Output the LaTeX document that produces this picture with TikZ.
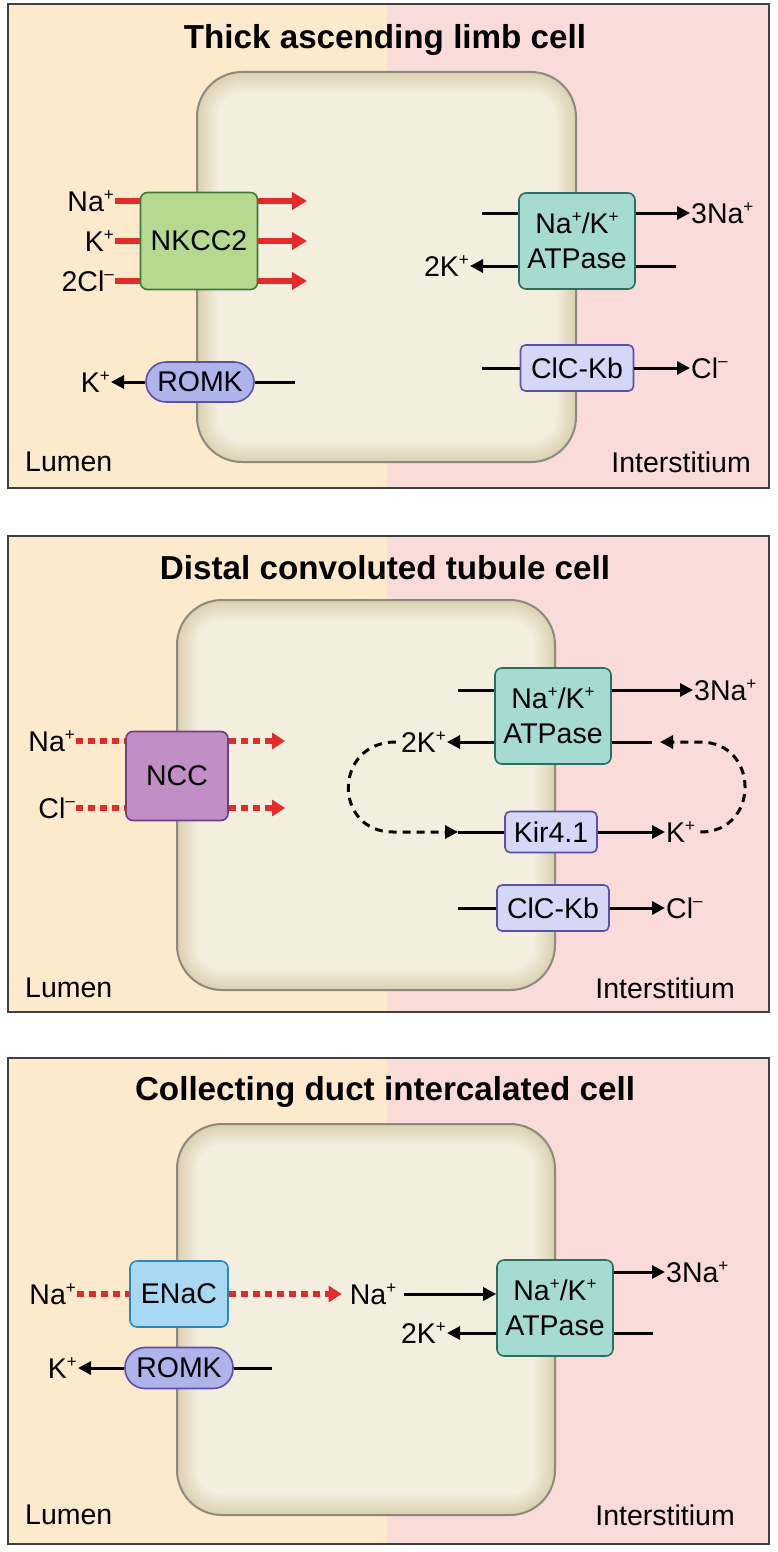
\documentclass[tikz,border=0pt]{standalone}
\usepackage{fontspec}
\setmainfont{Liberation Sans}
\usetikzlibrary{arrows.meta}

\definecolor{lumen}{HTML}{FDE9CC}
\definecolor{inter}{HTML}{F9DCDA}
\definecolor{cellmid}{HTML}{F4EEDF}
\definecolor{celledge}{HTML}{DCD1B2}
\definecolor{cellrim}{HTML}{8A8A80}
\definecolor{nkccfill}{HTML}{B6D98F}
\definecolor{nkccline}{HTML}{3E7A3A}
\definecolor{pumpfill}{HTML}{A5DBD2}
\definecolor{pumpline}{HTML}{2B6E5E}
\definecolor{clcfill}{HTML}{D5D7F6}
\definecolor{clcline}{HTML}{5C4FA6}
\definecolor{romkfill}{HTML}{AEB3EC}
\definecolor{nccfill}{HTML}{C18FC6}
\definecolor{nccline}{HTML}{6D3F80}
\definecolor{enacfill}{HTML}{A8D8F2}
\definecolor{enacline}{HTML}{2A86BE}
\definecolor{tred}{HTML}{E52A2A}

\newcommand{\lbl}{\fontsize{28.5}{35}\selectfont}
\newcommand{\ttl}{\fontsize{33.2}{38}\selectfont\bfseries}
\newcommand{\chg}[1]{\raisebox{.75ex}{\fontsize{17}{17}\selectfont #1}}
\newcommand{\cellbody}[4]{%
  \foreach \i [evaluate=\i as \p using 12.5*\i, evaluate=\i as \d using 2.5*\i,
               evaluate=\i as \r using 45-2.5*\i] in {0,...,8}
    \fill[cellmid!\p!celledge, rounded corners=\r pt] (#1+\d,#2+\d) rectangle (#3-\d,#4-\d);
  \draw[cellline] (#1,#2) rectangle (#3,#4);}

\tikzset{
  panel/.style={draw=black!75, line width=1.2pt},
  cellline/.style={draw=cellrim, line width=2pt, rounded corners=45pt},
  ttlnode/.style={inner sep=0pt, font=\ttl},
  side/.style={inner sep=0pt, font=\lbl},
  ion/.style={inner sep=1pt, font=\lbl},
  box/.style={draw, line width=1.6pt, rounded corners=7pt, inner sep=0pt, align=center, font=\lbl},
  pill/.style={draw=clcline, fill=romkfill, line width=1.6pt, rounded corners=20pt, inner sep=0pt,
    minimum width=108pt, minimum height=40pt, font=\lbl},
  pump/.style={box, fill=pumpfill, draw=pumpline, minimum width=116pt, minimum height=96pt},
  chan/.style={box, fill=clcfill, draw=clcline, rounded corners=5pt},
  bare/.style={line width=3pt},
  flow/.style={line width=3pt, -{Triangle[length=13pt,width=13pt]}},
  redbare/.style={draw=tred, line width=5.5pt},
  redflow/.style={draw=tred, line width=5.5pt, -{Triangle[length=15pt,width=17pt]}},
  reddots/.style={draw=tred, line width=5.5pt, dash pattern=on 7pt off 5pt},
  reddotflow/.style={reddots, -{Triangle[length=13pt,width=16pt]}},
  kloop/.style={line width=3pt, dash pattern=on 8pt off 6pt, -{Triangle[length=13pt,width=13pt]}}
}

\begin{document}
\begin{tikzpicture}[x=1pt, y=-1pt]
  \useasboundingbox (0,0) rectangle (777,1552);

  % thick ascending limb
  \fill[lumen] (8,4) rectangle (387,488);
  \fill[inter] (387,4) rectangle (769,488);
  \cellbody{197}{72}{576}{462}
  \draw[panel] (8,4) rectangle (769,488);
  \node[ttlnode] (t1) at (385,40) {Thick ascending limb cell};
  \node[side, anchor=west] (lum1) at (25,462) {Lumen};
  \node[side, anchor=east] (int1) at (751,462) {Interstitium};

  \node[box, fill=nkccfill, draw=nkccline, minimum width=117pt, minimum height=97pt] (nkcc) at (199,241) {NKCC2};
  \node[ion, anchor=east] (na1) at (115,201) {Na\chg{+}};
  \node[ion, anchor=east] (k1) at (115,241) {K\chg{+}};
  \node[ion, anchor=east] (cl1) at (115,281) {2Cl\chg{–}};
  \draw[redbare] (na1) -- (na1 -| nkcc.west);
  \draw[redbare] (k1) -- (k1 -| nkcc.west);
  \draw[redbare] (cl1) -- (cl1 -| nkcc.west);
  \coordinate (na1r) at (307,201);
  \coordinate (k1r) at (307,241);
  \coordinate (cl1r) at (307,281);
  \draw[redflow] (na1r -| nkcc.east) -- (na1r);
  \draw[redflow] (k1r -| nkcc.east) -- (k1r);
  \draw[redflow] (cl1r -| nkcc.east) -- (cl1r);

  \node[pill] (romk1) at (200,382) {ROMK};
  \node[ion, anchor=east] (k1b) at (111,382) {K\chg{+}};
  \coordinate (romk1a) at (295,382);
  \draw[flow] (romk1) -- (k1b);
  \draw[bare] (romk1) -- (romk1a);

  \node[pump] (nak1) at (577,241) {Na\chg{+}/K\chg{+}\\ATPase};
  \node[ion, anchor=west] (na3a) at (690,213) {3Na\chg{+}};
  \node[ion, anchor=east] (k2a) at (470,266) {2K\chg{+}};
  \coordinate (nak1a) at (482,213);
  \coordinate (nak1b) at (676,266);
  \draw[bare] (nak1a) -- (nak1a -| nak1.west);
  \draw[flow] (nak1.east |- na3a) -- (na3a);
  \draw[flow] (nak1.west |- k2a) -- (k2a);
  \draw[bare] (nak1.east |- nak1b) -- (nak1b);

  \node[chan, minimum width=113pt, minimum height=46pt] (clc1) at (577,368) {ClC-Kb};
  \node[ion, anchor=west] (cl1b) at (690,368) {Cl\chg{–}};
  \coordinate (clc1a) at (482,368);
  \draw[bare] (clc1a) -- (clc1);
  \draw[flow] (clc1) -- (cl1b);

  % distal convoluted tubule
  \fill[lumen] (8,536) rectangle (387,1012);
  \fill[inter] (387,536) rectangle (769,1012);
  \cellbody{177}{600}{555}{990}
  \draw[panel] (8,536) rectangle (769,1012);
  \node[ttlnode] (t2) at (385,568) {Distal convoluted tubule cell};
  \node[side, anchor=west] (lum2) at (25,988) {Lumen};
  \node[side, anchor=east] (int2) at (735,988) {Interstitium};

  \node[box, fill=nccfill, draw=nccline, minimum width=102pt, minimum height=89pt] (ncc) at (177,776) {NCC};
  \node[ion, anchor=east] (na2) at (76,741) {Na\chg{+}};
  \node[ion, anchor=east] (cl2) at (76,808) {Cl\chg{–}};
  \draw[reddots] (na2) -- (na2 -| ncc.west);
  \draw[reddots] (cl2) -- (cl2 -| ncc.west);
  \coordinate (na2r) at (285,741);
  \coordinate (cl2r) at (285,808);
  \draw[reddotflow] (na2r -| ncc.east) -- (na2r);
  \draw[reddotflow] (cl2r -| ncc.east) -- (cl2r);

  \node[pump] (nak2) at (553,716) {Na\chg{+}/K\chg{+}\\ATPase};
  \node[ion, anchor=west] (na3b) at (693,690) {3Na\chg{+}};
  \node[ion, anchor=east] (k2b) at (447,742) {2K\chg{+}};
  \coordinate (nak2a) at (458,690);
  \coordinate (nak2b) at (652,742);
  \coordinate (nak2c) at (660,742);
  \draw[bare] (nak2a) -- (nak2a -| nak2.west);
  \draw[flow] (nak2.east |- na3b) -- (na3b);
  \draw[flow] (nak2.west |- k2b) -- (k2b);
  \draw[bare] (nak2.east |- nak2b) -- (nak2b);

  \node[chan, minimum width=92pt, minimum height=41pt] (kir) at (551,832) {Kir4.1};
  \node[ion, anchor=west] (kb) at (665,832) {K\chg{+}};
  \coordinate (kirL) at (458,832);
  \draw[bare] (kirL) -- (kir);
  \draw[flow] (kir) -- (kb);
  \draw[kloop, shorten <=4pt] (k2b.west) .. controls (333,742) and (333,832) .. (393,832) -- (kirL);
  \draw[kloop, shorten <=4pt] (kb.east) .. controls (760,832) and (760,742) .. (700,742) -- (nak2c);

  \node[chan, minimum width=112pt, minimum height=46pt] (clc2) at (553,908) {ClC-Kb};
  \node[ion, anchor=west] (cl2b) at (665,908) {Cl\chg{–}};
  \coordinate (clc2a) at (458,908);
  \draw[bare] (clc2a) -- (clc2);
  \draw[flow] (clc2) -- (cl2b);

  % collecting duct
  \fill[lumen] (8,1058) rectangle (387,1544);
  \fill[inter] (387,1058) rectangle (769,1544);
  \cellbody{177}{1124}{555}{1515}
  \draw[panel] (8,1058) rectangle (769,1544);
  \node[ttlnode] (t3) at (385,1092) {Collecting duct intercalated cell};
  \node[side, anchor=west] (lum3) at (25,1515) {Lumen};
  \node[side, anchor=east] (int3) at (735,1515) {Interstitium};

  \node[box, fill=enacfill, draw=enacline, minimum width=98pt, minimum height=66pt] (enac) at (179,1294) {ENaC};
  \node[ion, anchor=east] (na4) at (77,1294) {Na\chg{+}};
  \node[ion] (na5) at (373,1294) {Na\chg{+}};
  \draw[reddots] (na4) -- (enac);
  \draw[reddotflow, shorten >=7pt] (enac) -- (na5);

  \node[pump] (nak3) at (555,1308) {Na\chg{+}/K\chg{+}\\ATPase};
  \node[ion, anchor=west] (na3c) at (665,1272) {3Na\chg{+}};
  \node[ion, anchor=east] (k3) at (447,1333) {2K\chg{+}};
  \coordinate (nak3b) at (653,1333);
  \draw[flow, shorten <=7pt] (na5) -- (na5 -| nak3.west);
  \draw[flow] (nak3.east |- na3c) -- (na3c);
  \draw[flow] (nak3.west |- k3) -- (k3);
  \draw[bare] (nak3.east |- nak3b) -- (nak3b);

  \node[pill, minimum height=41pt] (romk3) at (179,1368) {ROMK};
  \node[ion, anchor=east] (k4) at (78,1368) {K\chg{+}};
  \coordinate (romk3a) at (272,1368);
  \draw[flow] (romk3) -- (k4);
  \draw[bare] (romk3) -- (romk3a);
\end{tikzpicture}
\end{document}
